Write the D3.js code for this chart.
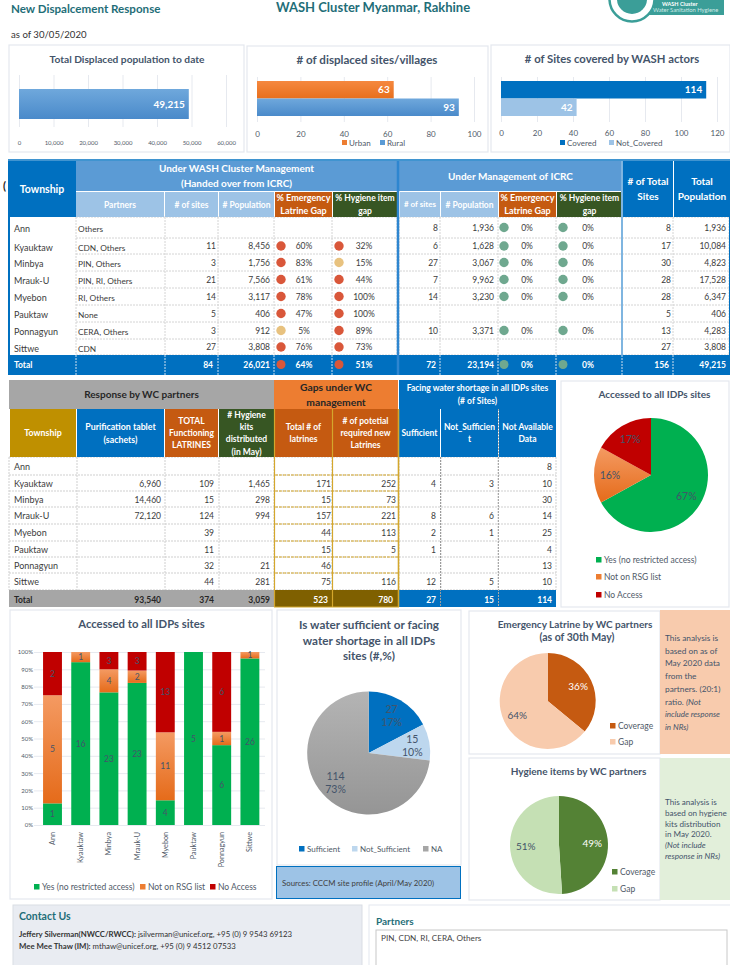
<!DOCTYPE html>
<html>
<head>
<meta charset="utf-8">
<script src="https://cdn.jsdelivr.net/npm/d3@7"></script>
<style>
  html, body { margin: 0; padding: 0; background: #fff; overflow: hidden; }
  svg { display: block; font-family: Lato, "Open Sans", sans-serif; }
</style>
</head>
<body>
<script>

// ---- data ----
var townships = ["Ann", "Kyauktaw", "Minbya", "Mrauk-U", "Myebon", "Pauktaw", "Ponnagyun", "Sittwe"]

var partners = ["Others", "CDN, Others", "PIN, Others", "PIN, RI, Others", "RI, Others", "None", "CERA, Others", "CDN"]
var clusterSites = [null, 11, 3, 21, 14, 5, 3, 27]
var clusterPop = [null, 8456, 1756, 7566, 3117, 406, 912, 3808]
var clusterLatrineGap = [null, 60, 83, 61, 78, 47, 5, 76]
var clusterHygieneGap = [null, 32, 15, 44, 100, 100, 89, 73]
var icrcSites = [8, 6, 27, 7, 14, null, 10, null]
var icrcPop = [1936, 1628, 3067, 9962, 3230, null, 3371, null]
var icrcLatrineGap = [0, 0, 0, 0, 0, null, 0, null]
var icrcHygieneGap = [0, 0, 0, 0, 0, null, 0, null]
var totalSites = [8, 17, 30, 28, 28, 5, 13, 27]
var totalPop = [1936, 10084, 4823, 17528, 6347, 406, 4283, 3808]

var tablets = [null, 6960, 14460, 72120, null, null, null, null]
var functioningLatrines = [null, 109, 15, 124, 39, 11, 32, 44]
var hygieneKits = [null, 1465, 298, 994, null, null, 21, 281]
var latrinesTotal = [null, 171, 15, 157, 44, 15, 46, 75]
var latrinesRequired = [null, 252, 73, 221, 113, 5, null, 116]
var waterSufficient = [null, 4, null, 8, 2, 1, null, 12]
var waterNotSufficient = [null, 3, null, 6, 1, null, null, 5]
var waterNoData = [8, 10, 30, 14, 25, 4, 13, 10]

var accessSeries = ["Yes (no restricted access)", "Not on RSG list", "No Access"]
var accessYes = [1, 16, 23, 23, 4, 5, 6, 26]
var accessNotListed = [5, 1, 4, 2, 11, 0, 1, 1]
var accessNone = [2, 0, 3, 3, 13, 0, 6, 0]
var accessPie = [67, 16, 17]

var waterLabels = ["Sufficient", "Not_Sufficient", "NA"]
var waterPie = [27, 15, 114]
var waterPct = ["17%", "10%", "73%"]
var coverLabels = ["Coverage", "Gap"]
var latrinePie = [36, 64]
var hygienePie = [49, 51]

var width = 730, height = 965
var fmt = d3.format(",")

var svg = d3.select("body").append("svg")
    .attr("width", width)
    .attr("height", height)

var defs = svg.append("defs")

function gradient(id, top, bottom) {
  var g = defs.append("linearGradient").attr("id", id).attr("x1", 0).attr("y1", 0).attr("x2", 0).attr("y2", 1)
  g.append("stop").attr("offset", "0%").attr("stop-color", top)
  g.append("stop").attr("offset", "100%").attr("stop-color", bottom)
}
gradient("gBlue", "#6fa8dc", "#4a8aca")
gradient("gOrange", "#f5883f", "#e86f1c")
gradient("gOrangeTall", "#f49a62", "#e56b1a")
gradient("gGrey", "#b4b4b4", "#959595")

var ink = "#44546a"

function txt(parent, x, y, s, size, opts) {
  opts = opts || {}
  return parent.append("text")
    .attr("x", x)
    .attr("y", y)
    .attr("font-size", size)
    .attr("font-weight", opts.bold ? 700 : 400)
    .attr("font-style", opts.italic ? "italic" : null)
    .attr("text-anchor", opts.anchor || "start")
    .attr("fill", opts.fill || "#404040")
    .text(s)
}

function panel(x, y, w, h, fill) {
  svg.append("rect")
    .attr("x", x).attr("y", y).attr("width", w).attr("height", h)
    .attr("fill", fill || "#fff")
    .attr("stroke", "#e4e8ef")
    .attr("stroke-width", 1.2)
}

// ---- page header ----
txt(svg, 11, 13, "New Dispalcement Response", 11.6, {bold: true, fill: "#1f6e78"})
txt(svg, 373, 12, "WASH Cluster Myanmar, Rakhine", 13, {bold: true, anchor: "middle", fill: "#1f6e78"})
txt(svg, 11, 38, "as of 30/05/2020", 9.6, {fill: "#333"})
txt(svg, 3, 190, "(", 11, {bold: true, fill: "#222"})

// logo, cropped by the top of the page
var logo = svg.append("g")
logo.append("rect").attr("x", 640).attr("y", -2).attr("width", 84).attr("height", 17).attr("fill", "#3b9e98")
logo.append("circle").attr("cx", 632).attr("cy", -1).attr("r", 22.5).attr("fill", "#fff").attr("stroke", "#3b9e98").attr("stroke-width", 2.5)
logo.append("circle").attr("cx", 632).attr("cy", -1).attr("r", 15).attr("fill", "#3b9e98")
txt(logo, 662, 5.5, "WASH Cluster", 5.5, {bold: true, fill: "#fff"})
txt(logo, 653, 12, "Water Sanitation Hygiene", 5.8, {fill: "#cfe9e6"})

// ---- top bar charts ----
function hbars(o) {
  panel(o.x, o.y, o.w, o.h)
  txt(svg, o.titleX, o.y + 18, o.title, o.titleSize, {bold: true, anchor: "middle", fill: ink})

  var x = d3.scaleLinear().domain([0, o.max]).range(o.range)
  var y = d3.scaleBand().domain(o.names).range(o.band).padding(0)

  var g = svg.append("g")
  g.append("g")
    .attr("transform", "translate(0," + o.gridBottom + ")")
    .call(d3.axisBottom(x).tickValues(o.ticks).tickFormat(o.format).tickSize(o.gridTop - o.gridBottom).tickPadding(0))
    .call(function(a) {
      a.select(".domain").remove()
      a.selectAll("line").attr("stroke", "#e6e9ef")
      a.selectAll("text")
        .attr("y", o.tickY - o.gridBottom)
        .attr("dy", 0)
        .attr("font-family", "Lato")
        .attr("font-size", o.tickSize)
        .attr("fill", "#505a68")
    })

  g.selectAll("rect.bar")
    .data(o.names)
    .enter().append("rect")
    .attr("class", "bar")
    .attr("x", x(0))
    .attr("y", function(d) { return y(d) })
    .attr("width", function(d, i) { return x(o.values[i]) - x(0) })
    .attr("height", y.bandwidth())
    .attr("fill", function(d, i) { return o.fills[i] })

  g.selectAll(".lab")
    .data(o.names)
    .enter().append("text")
    .attr("class", "lab")
    .attr("x", function(d, i) { return x(o.values[i]) - 4 })
    .attr("y", function(d) { return y(d) + y.bandwidth() / 2 + 3.5 })
    .attr("text-anchor", "end")
    .attr("font-size", 10)
    .attr("font-weight", 700)
    .attr("fill", "#fff")
    .text(function(d, i) { return fmt(o.values[i]) })

  if (o.legendX) {
    var cx = o.legendX
    o.names.forEach(function(n, i) {
      g.append("rect").attr("x", cx[i]).attr("y", o.legendY - 6).attr("width", 5).attr("height", 5).attr("fill", o.legendFills[i])
      txt(g, cx[i] + 7, o.legendY, n, 8, {fill: "#505a68"})
    })
  }
}

hbars({x: 9, y: 45, w: 235, h: 107, title: "Total Displaced population to date", titleX: 127, titleSize: 10.2,
  names: ["Total"], values: [49215], fills: ["url(#gBlue)"], max: 60000, range: [19, 226], band: [89, 119],
  gridTop: 75, gridBottom: 127, tickY: 145, tickSize: 6, ticks: [0, 10000, 20000, 30000, 40000, 50000, 60000], format: fmt})

hbars({x: 247, y: 46, w: 241, h: 106, title: "# of displaced sites/villages", titleX: 367, titleSize: 11.6,
  names: ["Urban", "Rural"], values: [63, 93], fills: ["url(#gOrange)", "url(#gBlue)"], max: 100, range: [257, 474], band: [81, 116],
  gridTop: 77, gridBottom: 122, tickY: 137, tickSize: 8, ticks: [0, 20, 40, 60, 80, 100], format: d3.format("d"),
  legendX: [342, 380], legendY: 146, legendFills: ["#ed7d31", "#5b9bd5"]})

hbars({x: 491, y: 45, w: 239, h: 107, title: "# of Sites covered by WASH actors", titleX: 612, titleSize: 11.3,
  names: ["Covered", "Not_Covered"], values: [114, 42], fills: ["#0070c0", "#9dc3e6"], max: 120, range: [501, 717], band: [81, 116],
  gridTop: 77, gridBottom: 122, tickY: 136, tickSize: 8, ticks: [0, 20, 40, 60, 80, 100, 120], format: d3.format("d"),
  legendX: [560, 609], legendY: 146, legendFills: ["#0070c0", "#9dc3e6"]})

// ---- tables ----
function headerCell(x0, x1, y0, y1, fill, lines, size, color) {
  svg.append("rect")
    .attr("x", x0).attr("y", y0).attr("width", x1 - x0).attr("height", y1 - y0)
    .attr("fill", fill)
  var mid = (x0 + x1) / 2, lh = size * 1.45
  var start = (y0 + y1) / 2 - (lines.length - 1) * lh / 2 + size * 0.36
  lines.forEach(function(s, i) {
    txt(svg, mid, start + i * lh, s, size, {bold: true, anchor: "middle", fill: color || "#fff"})
  })
}

function gridLines(xs, ys, color, dash) {
  var g = svg.append("g").attr("stroke", color).attr("stroke-width", 1).attr("stroke-dasharray", dash)
  g.selectAll(".v").data(xs).enter().append("line")
    .attr("x1", function(d) { return d }).attr("x2", function(d) { return d })
    .attr("y1", ys[0]).attr("y2", ys[ys.length - 1])
  g.selectAll(".h").data(ys).enter().append("line")
    .attr("y1", function(d) { return d }).attr("y2", function(d) { return d })
    .attr("x1", xs[0]).attr("x2", xs[xs.length - 1])
}

function vline(x, y0, y1, color, w, dash) {
  svg.append("line").attr("x1", x).attr("x2", x).attr("y1", y0).attr("y2", y1)
    .attr("stroke", color).attr("stroke-width", w).attr("stroke-dasharray", dash)
}
function hline(x0, x1, y, color, w, dash) {
  svg.append("line").attr("x1", x0).attr("x2", x1).attr("y1", y).attr("y2", y)
    .attr("stroke", color).attr("stroke-width", w).attr("stroke-dasharray", dash)
}

function gapColor(v) {
  if (v === 0) return "#6fa88f"
  return v <= 15 ? "#e8c27f" : "#d9573a"
}

// column of right aligned numbers, one per row, empty cells stay blank
function numColumn(values, rowMid, right, color, size) {
  svg.append("g").selectAll("text")
    .data(values)
    .enter().append("text")
    .attr("x", right)
    .attr("y", function(d, i) { return rowMid(i) })
    .attr("text-anchor", "end")
    .attr("font-size", size || 8.5)
    .attr("fill", color || "#3c3c3c")
    .text(function(d) { return d === null ? "" : fmt(d) })
}

// circle plus percentage column
function gapColumn(values, rowMid, cx, textX) {
  var g = svg.append("g")
  g.selectAll("circle").data(values).enter().append("circle")
    .attr("cx", cx)
    .attr("cy", function(d, i) { return rowMid(i) - 3 })
    .attr("r", function(d) { return d === null ? 0 : 4.7 })
    .attr("fill", function(d) { return gapColor(d) })
  g.selectAll("text").data(values).enter().append("text")
    .attr("x", textX)
    .attr("y", function(d, i) { return rowMid(i) })
    .attr("text-anchor", "middle")
    .attr("font-size", 8.5)
    .attr("fill", "#3c3c3c")
    .text(function(d) { return d === null ? "" : d + "%" })
}

// table one
var t1Rows = [217, 238, 254, 271, 288, 305, 322, 339, 355, 375]
function t1Mid(i) { return (t1Rows[i] + t1Rows[i + 1]) / 2 + 3 }

gridLines([76, 165, 218, 274, 332, 397, 399, 440, 498, 556, 622, 673, 729], t1Rows.slice(0, 9), "#d4d4d4", "2,1")
headerCell(8, 76, 161, 217, "#0070c0", ["Township"], 10.5)
headerCell(76, 397, 161, 191, "#5b9bd5", ["Under WASH Cluster Management", "(Handed over from ICRC)"], 10)
headerCell(399, 622, 161, 191, "#5b9bd5", ["Under Management of ICRC"], 10)
headerCell(76, 164, 192, 217, "#9dc3e6", ["Partners"], 8.5)
headerCell(165, 218, 192, 217, "#9dc3e6", ["# of sites"], 8.5)
headerCell(219, 274, 192, 217, "#9dc3e6", ["# Population"], 8.5)
headerCell(275, 332, 192, 217, "#c55a11", ["% Emergency", "Latrine Gap"], 9)
headerCell(333, 397, 192, 217, "#375623", ["% Hygiene item", "gap"], 8.5)
headerCell(400, 440, 192, 217, "#9dc3e6", ["# of sites"], 8)
headerCell(441, 498, 192, 217, "#9dc3e6", ["# Population"], 8.5)
headerCell(499, 556, 192, 217, "#c55a11", ["% Emergency", "Latrine Gap"], 9)
headerCell(557, 622, 192, 217, "#375623", ["% Hygiene item", "gap"], 8.5)
headerCell(623, 673, 161, 217, "#0070c0", ["# of Total", "Sites"], 10)
headerCell(674, 730, 161, 217, "#0070c0", ["Total", "Population"], 10)
svg.append("rect").attr("x", 8).attr("y", 355).attr("width", 722).attr("height", 20).attr("fill", "#0070c0")
vline(9, 217, 355, "#0070c0", 2)
vline(398, 161, 375, "#2e86d0", 2.5)
vline(622, 161, 355, "#7fb5e0", 2)
vline(729.5, 217, 355, "#0070c0", 1)
hline(8, 730, 160, "#0070c0", 1.5)

svg.append("g").selectAll("text").data(townships).enter().append("text")
  .attr("x", 14).attr("y", function(d, i) { return t1Mid(i) + 1.5 })
  .attr("font-size", 9).attr("fill", "#3c3c3c").text(function(d) { return d })
svg.append("g").selectAll("text").data(partners).enter().append("text")
  .attr("x", 78).attr("y", function(d, i) { return t1Mid(i) + 1.5 })
  .attr("font-size", 8.3).attr("fill", "#3c3c3c").text(function(d) { return d })

numColumn(clusterSites, t1Mid, 216)
numColumn(clusterPop, t1Mid, 270)
gapColumn(clusterLatrineGap, t1Mid, 281, 304)
gapColumn(clusterHygieneGap, t1Mid, 339, 364)
numColumn(icrcSites, t1Mid, 438)
numColumn(icrcPop, t1Mid, 494)
gapColumn(icrcLatrineGap, t1Mid, 504, 527)
gapColumn(icrcHygieneGap, t1Mid, 563, 588)
numColumn(totalSites, t1Mid, 671)
numColumn(totalPop, t1Mid, 726)

// table one totals, summed from the columns except the gap figures
var t1TotalY = 367.5
var t1Blue = [[213, d3.sum(clusterSites)], [270, d3.sum(clusterPop)], [436, d3.sum(icrcSites)], [494, d3.sum(icrcPop)],
  [669, d3.sum(totalSites)], [726, d3.sum(totalPop)]]
txt(svg, 14, t1TotalY, "Total", 8.5, {bold: true, fill: "#fff"})
t1Blue.forEach(function(p) { txt(svg, p[0], t1TotalY, fmt(p[1]), 8.5, {bold: true, anchor: "end", fill: "#fff"}) })
var t1Gaps = [[281, 304, 64], [339, 364, 51], [504, 527, 0], [563, 588, 0]]
t1Gaps.forEach(function(p) {
  svg.append("circle").attr("cx", p[0]).attr("cy", t1TotalY - 3).attr("r", 4.5).attr("fill", gapColor(p[2]))
  txt(svg, p[1], t1TotalY, p[2] + "%", 8.5, {bold: true, anchor: "middle", fill: "#fff"})
})
var t1Seps = [76, 165, 218, 274, 332, 440, 498, 556, 622, 673]
t1Seps.forEach(function(x) { vline(x, 355, 375, "#cfe0f0", 1, "2,1") })

// table two
var t2Rows = [457, 475, 491, 507, 524, 541, 557, 573, 590, 606]
function t2Mid(i) { return (t2Rows[i] + t2Rows[i + 1]) / 2 + 3.5 }

gridLines([9, 77, 165, 219, 274, 332, 399, 441, 498, 556], t2Rows.slice(0, 9), "#cfcfcf", "2,1")
headerCell(9, 274, 380, 409, "#a6a6a6", ["Response by WC partners"], 10, "#262626")
headerCell(274, 398, 380, 409, "#ed7d31", ["Gaps under WC", "management"], 10.3, "#262626")
headerCell(399, 556, 380, 409, "#0070c0", ["Facing water shortage in all IDPs sites", "(# of Sites)"], 8.5)
headerCell(10, 76, 409, 457, "#bf9000", ["Township"], 8.8)
headerCell(77, 164, 409, 457, "#0070c0", ["Purification tablet", "(sachets)"], 8.8)
headerCell(165, 218, 409, 457, "#c55a11", ["TOTAL", "Functioning", "LATRINES"], 8.5)
headerCell(219, 274, 409, 457, "#375623", ["# Hygiene", "kits", "distributed", "(in May)"], 8.5)
headerCell(275, 332, 409, 457, "#c55a11", ["Total # of", "latrines"], 8.5)
headerCell(333, 398, 409, 457, "#c55a11", ["# of potetial", "required new", "Latrines"], 8.5)
headerCell(399, 440, 409, 457, "#0070c0", ["Sufficient"], 8.5)
headerCell(441, 498, 409, 457, "#0070c0", ["Not_Sufficien", "t"], 8.5)
headerCell(499, 556, 409, 457, "#0070c0", ["Not Available", "Data"], 8.5)
svg.append("rect").attr("x", 9).attr("y", 590).attr("width", 265).attr("height", 17).attr("fill", "#a6a6a6")
svg.append("rect").attr("x", 274).attr("y", 590).attr("width", 124).attr("height", 17).attr("fill", "#7f6000")
svg.append("rect").attr("x", 399).attr("y", 590).attr("width", 157).attr("height", 17).attr("fill", "#0070c0")

var gold = "#d4a72c"
vline(274.5, 409, 607, gold, 1.2)
vline(332.5, 409, 607, gold, 1.2)
vline(398.5, 409, 607, gold, 1.6)
vline(440.5, 457, 607, "#9c9c9c", 1, "2,1")
vline(498.5, 409, 607, "#a9a9a9", 1, "2,1")
t2Rows.slice(1, 8).forEach(function(y) { hline(275, 398, y, gold, 1, "3,1") })
hline(274, 399, 607, gold, 1.2)

svg.append("g").selectAll("text").data(townships).enter().append("text")
  .attr("x", 14).attr("y", function(d, i) { return t2Mid(i) })
  .attr("font-size", 9).attr("fill", "#3c3c3c").text(function(d) { return d })

numColumn(tablets, t2Mid, 161)
numColumn(functioningLatrines, t2Mid, 214)
numColumn(hygieneKits, t2Mid, 270)
numColumn(latrinesTotal, t2Mid, 331)
numColumn(latrinesRequired, t2Mid, 396)
numColumn(waterSufficient, t2Mid, 436)
numColumn(waterNotSufficient, t2Mid, 494)
numColumn(waterNoData, t2Mid, 552)

var t2TotalY = 603
var t2Totals = [[161, tablets, "#262626"], [214, functioningLatrines, "#262626"], [270, hygieneKits, "#262626"],
  [328, latrinesTotal, "#fff"], [393, latrinesRequired, "#fff"],
  [436, waterSufficient, "#fff"], [494, waterNotSufficient, "#fff"], [552, waterNoData, "#fff"]]
txt(svg, 14, t2TotalY, "Total", 8.5, {bold: true, fill: "#262626"})
t2Totals.forEach(function(p) {
  txt(svg, p[0], t2TotalY, fmt(d3.sum(p[1])), 8.5, {bold: true, anchor: "end", fill: p[2]})
})

// ---- pies ----
function pie(o) {
  var arc = d3.arc().innerRadius(0).outerRadius(o.r)
  var label = d3.arc().innerRadius(o.r * o.labelAt).outerRadius(o.r * o.labelAt)
  var slices = d3.pie().sort(null)(o.values)
  var g = svg.append("g").attr("transform", "translate(" + o.cx + "," + o.cy + ")")
  g.selectAll("path")
    .data(slices)
    .enter().append("path")
    .attr("d", arc)
    .attr("fill", function(d, i) { return o.fills[i] })
  g.selectAll("text")
    .data(slices)
    .enter().append("text")
    .attr("transform", function(d) { return "translate(" + label.centroid(d) + ")" })
    .attr("text-anchor", "middle")
    .attr("font-size", o.size)
    .attr("fill", function(d, i) { return o.colors ? o.colors[i] : ink })
    .each(function(d, i) {
      var t = d3.select(this)
      o.labels[i].forEach(function(s, k) {
        t.append("tspan").attr("x", 0).attr("dy", k ? "1.2em" : (o.labels[i].length > 1 ? "-0.2em" : "0.35em")).text(s)
      })
    })
}

function legendItem(x, y, s, fill, size) {
  svg.append("rect").attr("x", x).attr("y", y - 6).attr("width", 5.5).attr("height", 5.5).attr("fill", fill)
  txt(svg, x + 8, y, s, size, {fill: "#505a68"})
}

// access pie
panel(561, 381, 168, 226)
txt(svg, 654.5, 398, "Accessed to all IDPs sites", 10, {bold: true, anchor: "middle", fill: ink})
pie({cx: 651, cy: 475, r: 57, values: accessPie, fills: ["#00b050", "url(#gOrangeTall)", "#c00000"],
  labels: accessPie.map(function(d) { return [d + "%"] }), labelAt: 0.72, size: 10.5})
accessSeries.forEach(function(s, i) {
  legendItem(596, [563, 580, 598][i], s, ["#00b050", "#ed7d31", "#c00000"][i], 8.5)
})

// stacked bars
panel(10, 610, 262, 289)
txt(svg, 141.5, 628, "Accessed to all IDPs sites", 11.3, {bold: true, anchor: "middle", fill: ink})

var stackRows = townships.map(function(t, i) {
  return {township: t, yes: accessYes[i], listed: accessNotListed[i], none: accessNone[i]}
})
var stackKeys = ["yes", "listed", "none"]
var stackFills = ["#00b050", "url(#gOrangeTall)", "#c00000"]
var stacked = d3.stack().keys(stackKeys).offset(d3.stackOffsetExpand)(stackRows)

var xStack = d3.scaleBand().domain(townships).range([38.4, 264]).paddingInner(0.33).paddingOuter(0.165)
var yStack = d3.scaleLinear().domain([0, 1]).range([825, 652])

svg.append("g")
    .attr("transform", "translate(34,0)")
    .call(d3.axisLeft(yStack).ticks(10).tickFormat(d3.format(".0%")).tickSize(-231).tickPadding(1))
    .call(function(a) {
      a.select(".domain").remove()
      a.selectAll("line").attr("stroke", "#e6e9ef")
      a.selectAll("text").attr("font-family", "Lato").attr("font-size", 6).attr("fill", "#505a68")
    })

var layers = svg.selectAll(".layer")
    .data(stacked)
  .enter().append("g")
    .attr("class", "layer")
    .attr("fill", function(d, i) { return stackFills[i] })

layers.selectAll("rect")
    .data(function(d) { return d })
  .enter().append("rect")
    .attr("x", function(d) { return xStack(d.data.township) })
    .attr("y", function(d) { return yStack(d[1]) })
    .attr("width", xStack.bandwidth())
    .attr("height", function(d) { return yStack(d[0]) - yStack(d[1]) })

layers.selectAll("text")
    .data(function(d) {
      return d.map(function(p) { return {p: p, key: d.key} })
    })
  .enter().append("text")
    .filter(function(d) { return d.p.data[d.key] > 0 })
    .attr("x", function(d) { return xStack(d.p.data.township) + xStack.bandwidth() / 2 })
    .attr("y", function(d) { return yStack((d.p[0] + d.p[1]) / 2) + 3 })
    .attr("text-anchor", "middle")
    .attr("font-size", 8.5)
    .attr("fill", ink)
    .text(function(d) { return d.p.data[d.key] })

svg.append("g").selectAll("text").data(townships).enter().append("text")
    .attr("transform", function(d) { return "translate(" + (xStack(d) + xStack.bandwidth() / 2 + 2.5) + ",832) rotate(-90)" })
    .attr("text-anchor", "end")
    .attr("font-size", 7.2)
    .attr("fill", "#505a68")
    .text(function(d) { return d })

accessSeries.forEach(function(s, i) {
  legendItem([34, 140, 210][i], 890, s, ["#00b050", "#ed7d31", "#c00000"][i], 8.5)
})

// water pie
panel(277, 610, 184, 255)
var waterTitle = ["Is water sufficient or facing", "water shortage in all IDPs", "sites (#,%)"]
waterTitle.forEach(function(s, i) {
  txt(svg, 369, 629 + i * 15.5, s, 11.7, {bold: true, anchor: "middle", fill: ink})
})
pie({cx: 368.7, cy: 753, r: 61.5, values: waterPie, fills: ["#0070c0", "#bdd7ee", "url(#gGrey)"],
  labels: waterPie.map(function(d, i) { return [d, waterPct[i]] }), labelAt: 0.72, size: 10.5})
waterLabels.forEach(function(s, i) {
  legendItem([299, 352, 423][i], 852, s, ["#0070c0", "#bdd7ee", "#a6a6a6"][i], 8)
})
svg.append("rect").attr("x", 276.5).attr("y", 866.5).attr("width", 184).attr("height", 32)
  .attr("fill", "#9dc3e6").attr("stroke", "#0070c0").attr("stroke-width", 1)
txt(svg, 282, 886, "Sources: CCCM site profile (April/May 2020)", 7.8, {fill: "#404040"})

// latrine pie and note
panel(469, 611, 191, 143)
txt(svg, 575, 628, "Emergency Latrine by WC partners", 10, {bold: true, anchor: "middle", fill: ink})
txt(svg, 577, 641, "(as of 30th May)", 10.5, {bold: true, anchor: "middle", fill: ink})
pie({cx: 547.7, cy: 701, r: 48, values: latrinePie, fills: ["#c55a11", "#f8cbad"],
  labels: latrinePie.map(function(d) { return [d + "%"] }), colors: ["#fff", ink], labelAt: 0.7, size: 10})
coverLabels.forEach(function(s, i) {
  legendItem(610, 729 + i * 16, s, ["#c55a11", "#f8cbad"][i], 8.5)
})
svg.append("rect").attr("x", 660).attr("y", 610).attr("width", 70).attr("height", 144).attr("fill", "#f8cbad")
var noteA = ["This analysis is", "based on as of", "May 2020 data", "from the", "partners.  (20:1)"]
noteA.forEach(function(s, i) {
  txt(svg, 665, 641 + i * 12.7, s, 8.3, {fill: ink})
})
var ratio = txt(svg, 665, 641 + 5 * 12.7, "ratio. ", 8.3, {fill: ink})
ratio.append("tspan").attr("font-style", "italic").text("(Not")
txt(svg, 665, 641 + 6 * 12.7, "include response", 8, {fill: ink, italic: true})
txt(svg, 665, 641 + 7 * 12.7, "in NRs)", 8, {fill: ink, italic: true})

// hygiene pie and note
panel(469, 758, 191, 142)
txt(svg, 578.5, 775, "Hygiene items by WC partners", 10, {bold: true, anchor: "middle", fill: ink})
pie({cx: 559, cy: 845, r: 49, values: hygienePie, fills: ["#548235", "#c5e0b4"],
  labels: hygienePie.map(function(d) { return [d + "%"] }), colors: ["#fff", ink], labelAt: 0.68, size: 10})
coverLabels.forEach(function(s, i) {
  legendItem(612, 875 + i * 17, s, ["#548235", "#c5e0b4"][i], 8.5)
})
svg.append("rect").attr("x", 660).attr("y", 758).attr("width", 70).attr("height", 142).attr("fill", "#e2efda")
var noteB = ["This analysis is", "based on hygiene", "kits distribution", "in May 2020.", "(Not include", "response in NRs)"]
noteB.forEach(function(s, i) {
  txt(svg, 665, 805 + i * 10.8, s, 8.1, {fill: ink, italic: i > 3})
})

// ---- footer ----
svg.append("rect").attr("x", 13).attr("y", 905).attr("width", 349).attr("height", 62).attr("fill", "#e9ecf2").attr("stroke", "#d9dde4")
txt(svg, 19, 920, "Contact Us", 10.5, {bold: true, fill: "#1f6e78"})
var c1 = txt(svg, 19, 937, "", 7.8, {fill: "#333"})
c1.append("tspan").attr("font-weight", 700).text("Jeffery Silverman(NWCC/RWCC):")
c1.append("tspan").text(" jsilverman@unicef.org, +95 (0) 9 9543 69123")
var c2 = txt(svg, 19, 949, "", 7.8, {fill: "#333"})
c2.append("tspan").attr("font-weight", 700).text("Mee Mee Thaw (IM):")
c2.append("tspan").text(" mthaw@unicef.org, +95 (0) 9 4512 07533")

svg.append("rect").attr("x", 369).attr("y", 905).attr("width", 362).attr("height", 62).attr("fill", "#fff").attr("stroke", "#e4e8ef")
txt(svg, 376, 925, "Partners", 10, {bold: true, fill: "#1f6e78"})
svg.append("rect").attr("x", 376).attr("y", 930).attr("width", 351).attr("height", 40).attr("fill", "#fff").attr("stroke", "#c8c8c8")
txt(svg, 381, 941, "PIN, CDN, RI, CERA, Others", 8.2, {fill: "#444"})

</script>
</body>
</html>
